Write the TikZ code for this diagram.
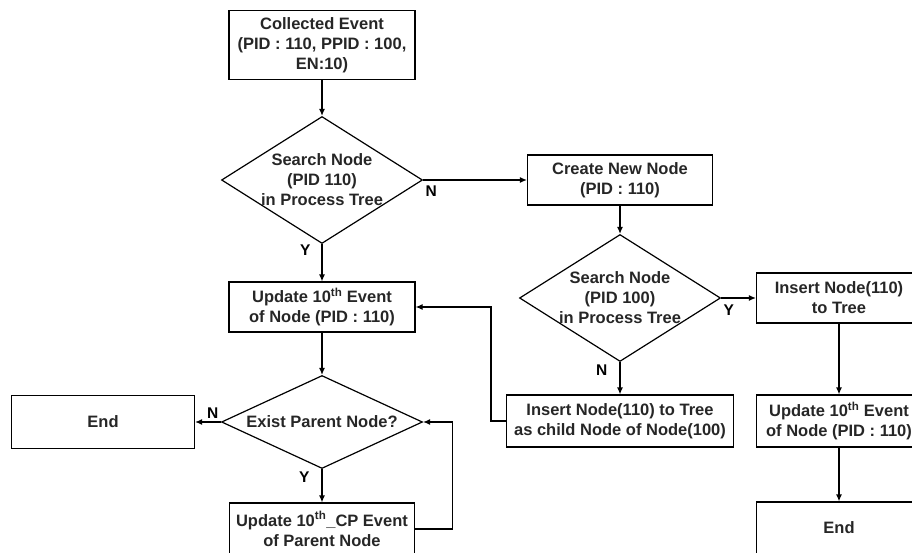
\documentclass[tikz,border=0pt]{standalone}
\usepackage{fontspec}
\setmainfont{Liberation Sans}
\usetikzlibrary{shapes.geometric,arrows.meta,positioning}

\tikzset{
  txt/.style={font=\bfseries\fontsize{16.5}{20}\selectfont, text=black!85},
  box/.style={draw, rectangle, txt, align=center, inner sep=2pt},
  decision/.style={draw, diamond, inner sep=0pt},
  yn/.style={font=\bfseries\fontsize{15.5}{17}\selectfont, inner sep=2pt}
}

\begin{document}
\begin{tikzpicture}[x=1pt,y=-1pt,on grid,line width=1.2pt,>={Latex[length=7pt,width=6pt]}]
   \useasboundingbox (0,0) rectangle (912,553);
   % left column
   \node[box,minimum width=186pt,minimum height=69pt] (collect) at (322,45) {Collected Event\\(PID : 110, PPID : 100,\\EN:10)};
   \node[decision,minimum width=201pt,minimum height=127pt,
         label={[txt,align=center]center:{Search Node\\(PID 110)\\in Process Tree}}] (search1) [below=135pt of collect] {};
   \node[box,minimum width=186pt,minimum height=50pt] (update) [below=127pt of search1] {Update 10\textsuperscript{th} Event\\of Node (PID : 110)};
   \node[decision,minimum width=201pt,minimum height=93pt,
         label={[txt]center:Exist Parent Node?}] (exist) [below=115pt of update] {};
   \node[box,minimum width=183pt,minimum height=53pt] (endl) [left=219pt of exist] {End};
   \node[box,minimum width=185pt,minimum height=52pt] (updcp) [below=107pt of exist] {Update 10\textsuperscript{th}\_CP Event\\of Parent Node};
   % middle column
   \node[box,minimum width=185pt,minimum height=50pt] (create) [right=298pt of search1] {Create New Node\\(PID : 110)};
   \node[decision,minimum width=201pt,minimum height=127pt,
         label={[txt,align=center]center:{Search Node\\(PID 100)\\in Process Tree}}] (search2) [below=118pt of create] {};
   \node[box,minimum width=227pt,minimum height=52pt] (child) [below=123pt of search2] {Insert Node(110) to Tree\\as child Node of Node(100)};
   % right column
   \node[box,minimum width=165pt,minimum height=50pt] (insert) [right=219pt of search2] {Insert Node(110)\\to Tree};
   \node[box,minimum width=165pt,minimum height=52pt] (updr) [below=123pt of insert] {Update 10\textsuperscript{th} Event\\of Node (PID : 110)};
   \node[box,minimum width=165pt,minimum height=52pt] (endr) [below=107pt of updr] {End};

   \draw[->] (collect) -- (search1);
   \draw[->] (search1.east) -- node[yn,pos=0,anchor=north west,yshift=-3pt]{N} (create);
   \draw[->] (search1.south) -- node[yn,pos=0.15,left=9pt]{Y} (update);
   \draw[->] (update) -- (exist);
   \draw[->] (exist.west) -- node[yn,pos=0,anchor=south east,yshift=1pt]{N} (endl);
   \draw[->] (exist.south) -- node[yn,pos=0.25,left=10pt]{Y} (updcp);
   \draw[->] (updcp.east) -- ++(37,0) |- (exist.east);
   \draw[->] (create) -- (search2);
   \draw[->] (search2.east) -- node[yn,pos=0,anchor=north west,yshift=-4pt]{Y} (insert);
   \draw[->] (search2.south) -- node[yn,pos=0.25,left=10pt]{N} (child);
   \draw[->] (child.west) -- ++(-15,0) |- (update.east);
   \draw[->] (insert) -- (updr);
   \draw[->] (updr) -- (endr);
\end{tikzpicture}
\end{document}
